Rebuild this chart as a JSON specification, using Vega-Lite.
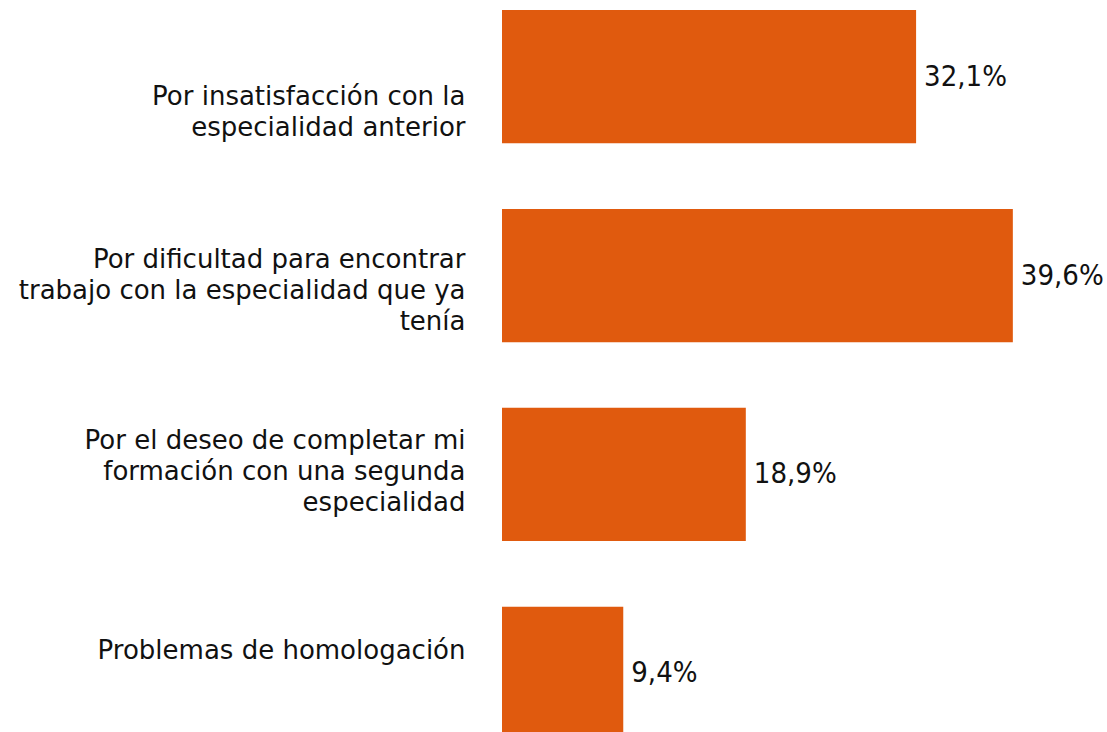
{
  "$schema": "https://vega.github.io/schema/vega-lite/v6.json",
  "width": 516,
  "height": 750,
  "autosize": {"type": "none"},
  "padding": {"left": 502, "top": 0, "right": 89, "bottom": 0},
  "background": "white",
  "config": {
    "view": {"stroke": null},
    "font": "DejaVu Sans",
    "locale": {"number": {"decimal": ",", "thousands": ".", "grouping": [3], "currency": ["", " €"]}}
  },
  "data": {
    "values": [
      {"motivo": "Por insatisfacción con la\nespecialidad anterior", "pct": 0.321},
      {"motivo": "Por dificultad para encontrar\ntrabajo con la especialidad que ya\ntenía", "pct": 0.396},
      {"motivo": "Por el deseo de completar mi\nformación con una segunda\nespecialidad", "pct": 0.189},
      {"motivo": "Problemas de homologación", "pct": 0.094}
    ]
  },
  "encoding": {
    "y": {
      "field": "motivo",
      "type": "nominal",
      "sort": null,
      "scale": {"paddingInner": 0.33, "paddingOuter": 0.05},
      "axis": {
        "title": null,
        "ticks": false,
        "domain": false,
        "labelPadding": 37,
        "labelFont": "DejaVu Sans",
        "labelFontSize": 26,
        "labelColor": "#111111",
        "labelLineHeight": 31,
        "labelLimit": 0,
        "labelExpr": "split(datum.label, '\\n')",
        "labelOffset": {"expr": "datum.index < 0.1 ? 20 : datum.index < 0.5 ? -15.5 : datum.index < 0.9 ? -33.5 : -22.5"}
      }
    },
    "x": {"field": "pct", "type": "quantitative", "scale": {"domain": [0, 0.4]}, "axis": null}
  },
  "layer": [
    {"mark": {"type": "bar", "color": "#E05A0E"}},
    {
      "mark": {"type": "text", "align": "left", "baseline": "middle", "dx": 8, "fontSize": 29, "font": "DejaVu Sans Condensed", "color": "#111111"},
      "encoding": {"text": {"field": "pct", "format": ".1%"}}
    }
  ]
}
